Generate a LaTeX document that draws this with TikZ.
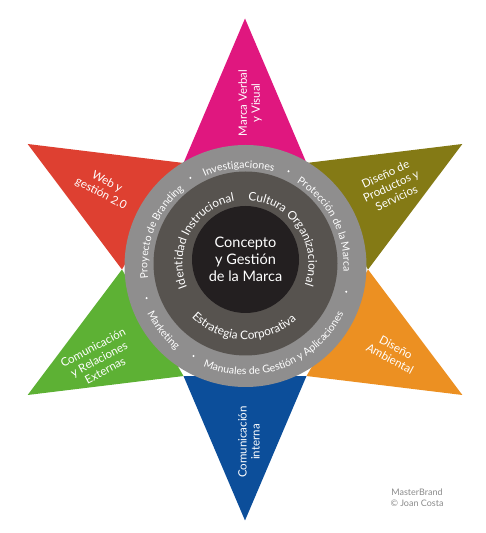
\documentclass[tikz,border=0pt]{standalone}
\usepackage{fontspec}
\setmainfont{Lato}
\usetikzlibrary{decorations.text}
\definecolor{mag}{HTML}{E0177F}
\definecolor{oli}{HTML}{847A15}
\definecolor{ora}{HTML}{EC9022}
\definecolor{blu}{HTML}{0C4E9A}
\definecolor{gre}{HTML}{5DB134}
\definecolor{red}{HTML}{DE4031}
\definecolor{ringout}{HTML}{8F8E8E}
\definecolor{ringmid}{HTML}{57534F}
\definecolor{core}{HTML}{231F20}
\definecolor{credit}{HTML}{8A8A8A}
\newcommand\ringfont{\fontsize{10.5}{12}\selectfont}
\newcommand\midfont{\fontsize{11.8}{13}\selectfont}

\begin{document}
\begin{tikzpicture}[x=1pt,y=1pt,
  lbl/.style={text=white,align=center,font=\fontsize{11.5}{13}\selectfont},
  cwtext/.style={decorate,decoration={text along path,text align=center,
    text={|\ringfont\color{white}|#1}}},
  midtext/.style={decorate,decoration={text along path,text align=center,
    text={|\midfont\color{white}|#1}}}]
  \useasboundingbox (0,0) rectangle (485,533);
  \coordinate (o) at (245.5,267);
  \coordinate (m) at (245.5,269.5);
  \coordinate (c) at (245.5,273.5);
  \begin{scope}[shift={(245,263.5)}]
    \foreach \a/\col in {90/mag,30/oli,-30/ora,-90/blu,-150/gre,150/red}
      \fill[\col] (\a:251) -- (\a+30:123) -- (\a-30:123) -- cycle;
  \end{scope}
  \fill[ringout] (o) circle (121);
  \fill[ringmid] (m) circle (92);
  \fill[core] (c) circle (53.5);

  \path[cwtext=Investigaciones] (o) ++(150:98) arc[start angle=150,end angle=38,radius=98];
  \path[cwtext=Protección de la Marca] (o) ++(87.6:98) arc[start angle=87.6,end angle=-32.4,radius=98];
  \path[cwtext=Proyecto de Branding] (o) ++(218:98) arc[start angle=218,end angle=98,radius=98];
  \path[cwtext=Manuales de Gestión y Aplicaciones] (o) ++(210.6:109) arc[start angle=210.6,end angle=370.6,radius=109];
  \path[cwtext=Marketing] (o) ++(178:109) arc[start angle=178,end angle=258,radius=109];
  \foreach \a in {122,65.6,-14.3,240,198}
    \fill[white] (o) ++(\a:104) circle (1.1);

  \path[midtext=Identidad Instrucional] (m) ++(226:63) arc[start angle=226,end angle=76,radius=63];
  \path[midtext=Cultura Organizacional] (m) ++(109:63) arc[start angle=109,end angle=-41,radius=63];
  \path[midtext=Estrategia Corporativa] (m) ++(188.5:76) arc[start angle=188.5,end angle=348.5,radius=76];

  \node[text=white,align=center,font=\fontsize{14.5}{17}\selectfont] (cg) at (c) {Concepto\\y Gestión\\de la Marca};

  \node[lbl,rotate=90] (mv) at (250,430) {Marca Verbal\\y Visual};
  \node[lbl,rotate=25] (dp) at (391,347) {Diseño de\\Productos y\\Servicios};
  \node[lbl,rotate=-28] (da) at (393,180) {Diseño\\Ambiental};
  \node[lbl,rotate=90] (ci) at (249,91) {Comunicación\\interna};
  \node[lbl,rotate=28] (cr) at (99,174) {Comunicación\\y Relaciones\\Externas};
  \node[lbl,rotate=-28] (wg) at (104,345) {Web y\\gestión 2.0};

  \node[text=credit,align=center,font=\fontsize{9}{11}\selectfont] (mb) at (417,35) {MasterBrand\\© Joan Costa};
\end{tikzpicture}
\end{document}
